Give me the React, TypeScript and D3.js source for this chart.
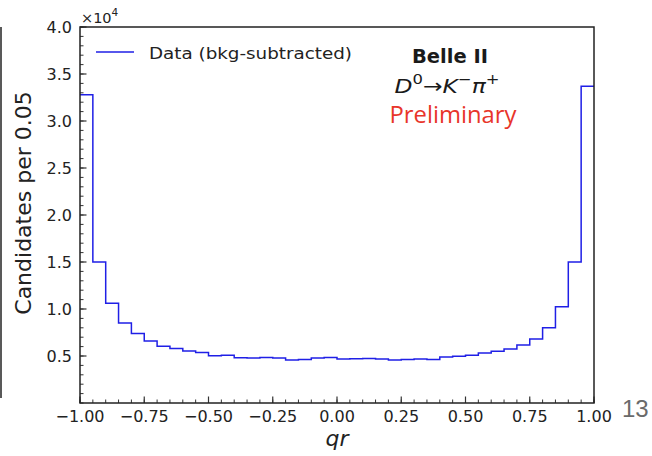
import React from "react";
import * as d3 from "d3";

const binEdges: number[] = [-1.0, -0.95, -0.9, -0.85, -0.8, -0.75, -0.7, -0.65, -0.6, -0.55, -0.5, -0.45, -0.4, -0.35, -0.3, -0.25, -0.2, -0.15, -0.1, -0.05, 0.0, 0.05, 0.1, 0.15, 0.2, 0.25, 0.3, 0.35, 0.4, 0.45, 0.5, 0.55, 0.6, 0.65, 0.7, 0.75, 0.8, 0.85, 0.9, 0.95, 1.0];
// counts in units of 1e4
const counts: number[] = [3.28, 1.5, 1.06, 0.85, 0.74, 0.66, 0.605, 0.58, 0.553, 0.538, 0.503, 0.508, 0.482, 0.48, 0.483, 0.478, 0.457, 0.463, 0.48, 0.484, 0.468, 0.472, 0.474, 0.468, 0.457, 0.462, 0.468, 0.462, 0.489, 0.497, 0.508, 0.533, 0.55, 0.575, 0.617, 0.68, 0.8, 1.025, 1.5, 3.37];
const xTicks: number[] = [-1.0, -0.75, -0.5, -0.25, 0.0, 0.25, 0.5, 0.75, 1.0];
const yTicks: number[] = [0.5, 1.0, 1.5, 2.0, 2.5, 3.0, 3.5, 4.0];

const FONT = "DejaVu Sans, sans-serif";

export default function App() {
  const W = 652, H = 456;
  const L = 80, R = 594, T = 27, B = 403;
  const x = d3.scaleLinear().domain([-1, 1]).range([L, R]);
  const y = d3.scaleLinear().domain([0, 4]).range([B, T]);

  const stepPts: [number, number][] = [];
  counts.forEach((c, i) => {
    stepPts.push([binEdges[i], c]);
    stepPts.push([binEdges[i + 1], c]);
  });
  const line = d3.line<[number, number]>().x(d => x(d[0])).y(d => y(d[1]));
  const path = line(stepPts) || "";

  const xMinor = d3.range(-1, 1.0001, 0.05).map(v => Math.round(v * 100) / 100);
  const yMinor = d3.range(0, 4.0001, 0.1).map(v => Math.round(v * 10) / 10);
  const fmtX = (v: number) => d3.format(".2f")(v).replace("-", "\u2212");
  const fmtY = (v: number) => d3.format(".1f")(v);

  return (
    <svg width={W} height={H} style={{ position: "absolute", left: 0, top: 0, background: "#fff" }}>
      <rect x={0} y={0} width={W} height={H} fill="#fff" />
      {/* slide edge */}
      <line x1={1} x2={1} y1={27} y2={398} stroke="#222" strokeWidth={1.5} />

      <defs>
        <clipPath id="plotclip">
          <rect x={L} y={T} width={R - L} height={B - T} />
        </clipPath>
      </defs>
      <path d={path} fill="none" stroke="#1f1fe6" strokeWidth={1.5} clipPath="url(#plotclip)" />

      {/* minor ticks */}
      {xMinor.map((v, i) => (
        <line key={"xm" + i} x1={x(v)} x2={x(v)} y1={B} y2={B - 3.5} stroke="#333" strokeWidth={1} />
      ))}
      {yMinor.map((v, i) => (
        <line key={"ym" + i} x1={L} x2={L + 3.5} y1={y(v)} y2={y(v)} stroke="#333" strokeWidth={1} />
      ))}
      {/* major ticks */}
      {xTicks.map((v, i) => (
        <g key={"xt" + i}>
          <line x1={x(v)} x2={x(v)} y1={B} y2={B - 6.5} stroke="#333" strokeWidth={1.2} />
          <text x={x(v)} y={421.5} fontFamily={FONT} fontSize={16} textAnchor="middle" fill="#222">{fmtX(v)}</text>
        </g>
      ))}
      {yTicks.map((v, i) => (
        <g key={"yt" + i}>
          <line x1={L} x2={L + 6.5} y1={y(v)} y2={y(v)} stroke="#333" strokeWidth={1.2} />
          <text x={72} y={y(v) + 5.8} fontFamily={FONT} fontSize={16} textAnchor="end" fill="#222">{fmtY(v)}</text>
        </g>
      ))}

      {/* frame */}
      <rect x={L} y={T} width={R - L} height={B - T} fill="none" stroke="#222" strokeWidth={1.5} />

      {/* offset text */}
      <text x={81} y={23} fontFamily={FONT} fontSize={14.5} fill="#222">
        ×10<tspan dy={-7} fontSize={10.5}>4</tspan>
      </text>

      {/* axis labels */}
      <text transform="translate(31,203) rotate(-90)" fontFamily={FONT} fontSize={22} textAnchor="middle" fill="#222">Candidates per 0.05</text>
      <text x={337} y={446} fontFamily={FONT} fontSize={22} fontStyle="italic" textAnchor="middle" fill="#222">qr</text>

      {/* legend */}
      <line x1={96} x2={134} y1={52} y2={52} stroke="#1f1fe6" strokeWidth={1.6} />
      <text x={149} y={58.5} fontFamily={FONT} fontSize={16} fill="#222" textLength={203} lengthAdjust="spacingAndGlyphs">Data (bkg-subtracted)</text>

      {/* labels */}
      <text x={450} y={63} fontFamily={FONT} fontSize={19.5} fontWeight="bold" textAnchor="middle" fill="#1a1a1a" textLength={76} lengthAdjust="spacingAndGlyphs">Belle II</text>
      <text x={447} y={93} fontFamily={FONT} fontSize={20} textAnchor="middle" fill="#1a1a1a" textLength={105} lengthAdjust="spacingAndGlyphs">
        <tspan fontStyle="italic">D</tspan><tspan dy={-9} fontSize={14}>0</tspan><tspan dy={9}>→</tspan><tspan fontStyle="italic">K</tspan><tspan dy={-9} fontSize={14}>−</tspan><tspan dy={9} fontStyle="italic">π</tspan><tspan dy={-9} fontSize={14}>+</tspan>
      </text>
      <text x={453} y={123} fontFamily="Open Sans, sans-serif" fontSize={23} textAnchor="middle" fill="#e8352a" textLength={127} lengthAdjust="spacingAndGlyphs">Preliminary</text>

      {/* slide number */}
      <text x={622} y={417} fontFamily="Liberation Sans, sans-serif" fontSize={24} fill="#6a6a6a">13</text>
    </svg>
  );
}
